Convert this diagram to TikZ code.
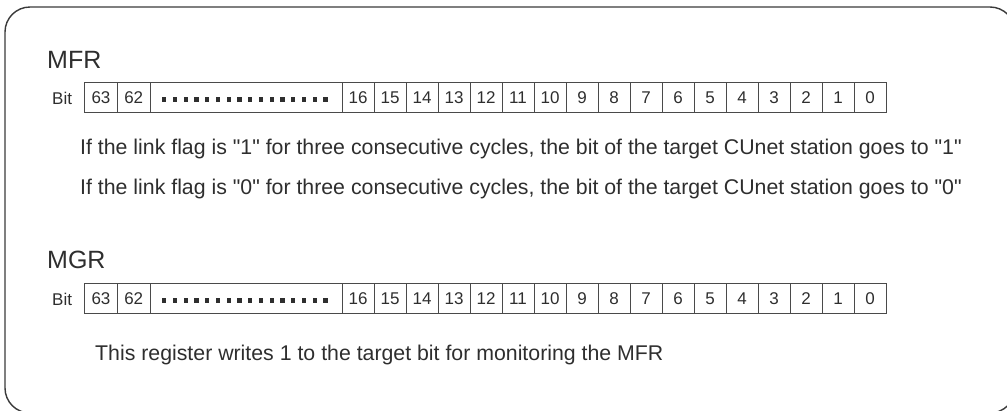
\documentclass[tikz,border=0pt]{standalone}
\usepackage{fontspec}
\setmainfont{Liberation Sans}
\newfontfamily\arialf{Liberation Sans}
\definecolor{framegray}{HTML}{3A3A3A}
\definecolor{linegray}{HTML}{4A4A4A}
\definecolor{textgray}{HTML}{2E2E2E}
\begin{document}
\begin{tikzpicture}[x=1pt,y=-1pt,
  cell/.style={draw=linegray, line width=0.9pt, minimum height=29.5pt, inner sep=0pt,
    font=\arialf\fontsize{17}{17}\selectfont, text=textgray, anchor=center},
  regtitle/.style={anchor=base west, inner sep=0pt, font=\arialf\fontsize{25}{25}\selectfont, text=textgray},
  bitlbl/.style={anchor=base west, inner sep=0pt, font=\arialf\fontsize{17}{17}\selectfont, text=textgray},
  bodytext/.style={anchor=base west, inner sep=0pt, font=\arialf\fontsize{21.3}{21.3}\selectfont, text=textgray}]
\useasboundingbox (0,0) rectangle (1007,410);
\clip (0,0) rectangle (1007,410);
\draw[framegray, line width=1.4pt, rounded corners=25pt] (5,7) rectangle (1015,413);
% ---------- MFR ----------
\node[regtitle] (mfr) at (47,68) {MFR};
\node[bitlbl] (mbit) at (52,104) {Bit};
\node[cell, minimum width=33pt] (m63) at (101,97.5) {63};
\node[cell, minimum width=32.5pt] (m62) at (133.75,97.5) {62};
\node[cell, minimum width=192pt] (mdots) at (246,97.5) {};
\foreach \k in {0,...,15}{
  \fill[textgray] ({162+10.75*\k},97.3) rectangle ++(4.3,4.3);
}
\foreach \i in {0,...,16}{
  \pgfmathtruncatemacro{\b}{16-\i}
  \node[cell, minimum width=32pt] (m\b) at ({358+32*\i},97.5) {\b};
}
\node[bodytext] (mline1) at (80,154) {If the link flag is "1" for three consecutive cycles, the bit of the target CUnet station goes to "1"};
\node[bodytext] (mline2) at (80,194) {If the link flag is "0" for three consecutive cycles, the bit of the target CUnet station goes to "0"};
% ---------- MGR ----------
\node[regtitle] (mgr) at (47,268.5) {MGR};
\node[bitlbl] (gbit) at (52,305) {Bit};
\node[cell, minimum width=33pt] (g63) at (101,298.5) {63};
\node[cell, minimum width=32.5pt] (g62) at (133.75,298.5) {62};
\node[cell, minimum width=192pt] (gdots) at (246,298.5) {};
\foreach \k in {0,...,15}{
  \fill[textgray] ({162+10.75*\k},298.3) rectangle ++(4.3,4.3);
}
\foreach \i in {0,...,16}{
  \pgfmathtruncatemacro{\b}{16-\i}
  \node[cell, minimum width=32pt] (g\b) at ({358+32*\i},298.5) {\b};
}
\node[bodytext] (gline) at (95,360) {This register writes 1 to the target bit for monitoring the MFR};
\end{tikzpicture}
\end{document}
